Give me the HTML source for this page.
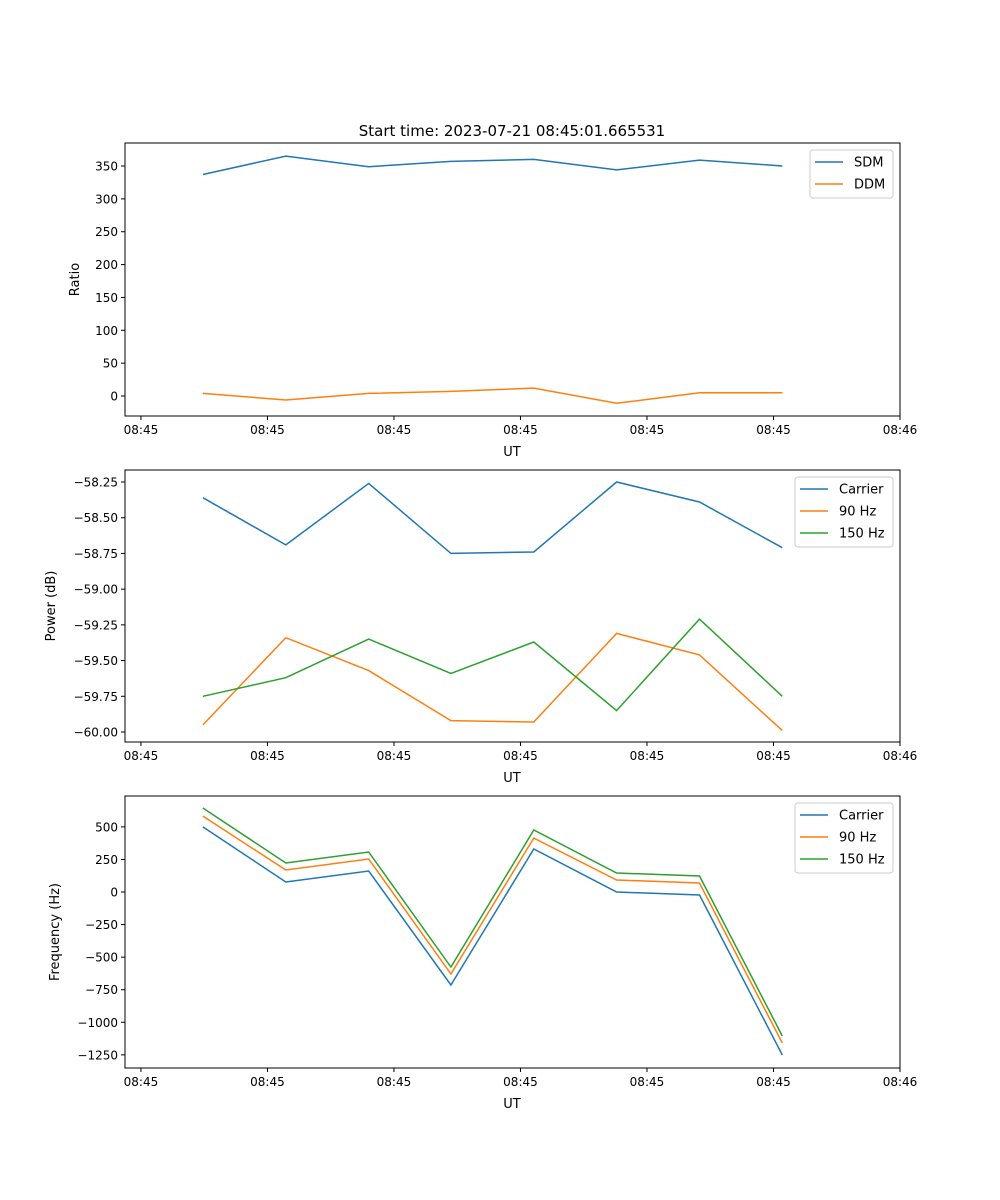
<!DOCTYPE html>
<html><head><meta charset="utf-8"><style>
body{margin:0;background:#fff;}
svg{display:block;font-family:"DejaVu Sans","Liberation Sans",sans-serif;}
</style></head><body>
<svg id="fig" width="1000" height="1200" viewBox="0 0 1000 1200">
<text x="512" y="136" font-size="15" text-anchor="middle">Start time: 2023-07-21 08:45:01.665531</text>
</svg>
<script>
const times = [4.9, 11.45, 18.0, 24.5, 31.05, 37.6, 44.15, 50.7];
const xTickVals = [0, 10, 20, 30, 40, 50, 60];
const xTickLabels = ["08:45","08:45","08:45","08:45","08:45","08:45","08:46"];
const sdm = [337, 365, 349, 357, 360, 344, 359, 350];
const ddm = [4, -6, 4, 7, 12, -11, 5, 5];
const powCarrier = [-58.36, -58.69, -58.26, -58.75, -58.74, -58.25, -58.39, -58.71];
const pow90 = [-59.95, -59.34, -59.57, -59.92, -59.93, -59.31, -59.46, -59.99];
const pow150 = [-59.75, -59.62, -59.35, -59.59, -59.37, -59.85, -59.21, -59.75];
const freqCarrier = [500, 77, 161, -714, 330, 0, -23, -1251];
const freq90 = [583, 169, 253, -629, 414, 92, 69, -1159];
const freq150 = [645, 223, 307, -576, 476, 146, 123, -1105];
const ratioTicks = [0, 50, 100, 150, 200, 250, 300, 350];
const powTicks = [-60.00, -59.75, -59.50, -59.25, -59.00, -58.75, -58.50, -58.25];
const freqTicks = [-1250, -1000, -750, -500, -250, 0, 250, 500];

const NS = "http://www.w3.org/2000/svg";
const svg = document.getElementById('fig');
function mk(tag, attrs, parent){const e=document.createElementNS(NS,tag);for(const k in attrs)e.setAttribute(k,attrs[k]);(parent||svg).appendChild(e);return e;}
const X0=125,X1=900,XMIN=-1.26,XMAX=60;
const xs = t => X0+(t-XMIN)/(XMAX-XMIN)*(X1-X0);

function panel(name, top, bot, ymin, ymax, ticks, fmt, ylabel, ylabelX, series, legend){
  const g = mk('g',{});
  
  
  const ys = v => bot-(v-ymin)/(ymax-ymin)*(bot-top);
  series.forEach(s=>{
    const p = mk('polyline',{points:s.vals.map((v,i)=>xs(times[i]).toFixed(1)+','+ys(v).toFixed(1)).join(' '),fill:'none',stroke:s.color,'stroke-width':1.5},g);
    
    
  });
  mk('rect',{x:X0,y:top,width:X1-X0,height:bot-top,fill:'none',stroke:'#000','stroke-width':1},g);
  xTickVals.forEach((t,i)=>{
    const x=xs(t);
    mk('line',{x1:x,x2:x,y1:bot,y2:bot+4,stroke:'#000'},g);
    const tx=mk('text',{x:x,y:bot+18,'font-size':12,'text-anchor':'middle'},g);tx.textContent=xTickLabels[i];
    
    
  });
  const xl=mk('text',{x:512,y:bot+40,'font-size':13,'text-anchor':'middle'},g);xl.textContent='UT';
  
  
  ticks.forEach(v=>{
    const y=ys(v);
    mk('line',{x1:X0-4,x2:X0,y1:y,y2:y,stroke:'#000'},g);
    const tx=mk('text',{x:X0-7,y:y+4.5,'font-size':12,'text-anchor':'end'},g);tx.textContent=fmt(v);
    
    
  });
  const yl=mk('text',{x:ylabelX,y:(top+bot)/2,'font-size':13,'text-anchor':'middle',transform:`rotate(-90 ${ylabelX} ${(top+bot)/2})`},g);yl.textContent=ylabel;
  
  
  const lg=mk('g',{},g);
  
  
  mk('rect',{x:legend.x,y:top+7,width:893-legend.x,height:series.length*22+4,fill:'#fff',stroke:'#ccc',rx:3},lg);
  series.forEach((s,i)=>{
    const y=top+19+i*22;
    mk('line',{x1:legend.x+5,x2:legend.x+33,y1:y,y2:y,stroke:s.color,'stroke-width':1.5},lg);
    const t=mk('text',{x:legend.x+44,y:y+4.5,'font-size':13},lg);t.textContent=s.label;
    
    
  });
}
panel('ratio-panel',143,416,-30.4,385,ratioTicks,v=>String(v),'Ratio',79,
  [{id:'sdm',label:'SDM',color:'#1f77b4',vals:sdm},{id:'ddm',label:'DDM',color:'#ff7f0e',vals:ddm}],{x:810});
panel('power-panel',470,742,-60.07,-58.166,powTicks,v=>'\u2212'+Math.abs(v).toFixed(2),'Power (dB)',55,
  [{id:'carrier-power',label:'Carrier',color:'#1f77b4',vals:powCarrier},{id:'90hz-power',label:'90 Hz',color:'#ff7f0e',vals:pow90},{id:'150hz-power',label:'150 Hz',color:'#2ca02c',vals:pow150}],{x:795});
panel('frequency-panel',796,1068,-1351,737,freqTicks,v=>v<0?'\u2212'+Math.abs(v):String(v),'Frequency (Hz)',59,
  [{id:'carrier-freq',label:'Carrier',color:'#1f77b4',vals:freqCarrier},{id:'90hz-freq',label:'90 Hz',color:'#ff7f0e',vals:freq90},{id:'150hz-freq',label:'150 Hz',color:'#2ca02c',vals:freq150}],{x:795});
</script>
</body></html>
